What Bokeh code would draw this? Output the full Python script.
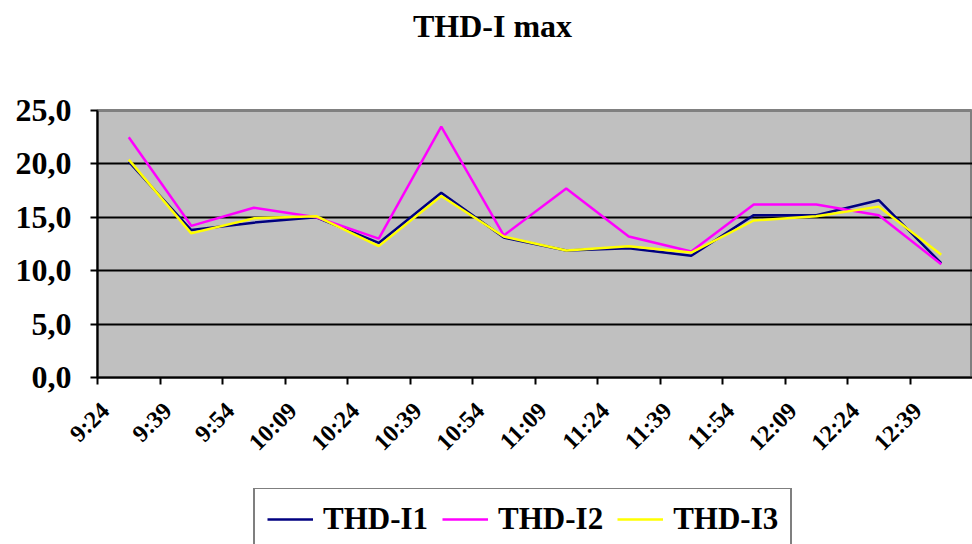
import math
from bokeh.plotting import figure
from bokeh.layouts import column
from bokeh.models import (Range1d, FixedTicker, Label, Legend, LegendItem, ColumnDataSource)
from bokeh.embed import file_html
from bokeh.resources import INLINE

# ---- data ----
times = ["9:24", "9:39", "9:54", "10:09", "10:24", "10:39", "10:54",
         "11:09", "11:24", "11:39", "11:54", "12:09", "12:24", "12:39"]
thd_i1 = [20.2, 13.8, 14.5, 15.0, 12.6, 17.3, 13.1, 11.9, 12.1, 11.4, 15.2, 15.2, 16.6, 10.7]
thd_i2 = [22.5, 14.2, 15.9, 15.0, 13.0, 23.5, 13.3, 17.7, 13.2, 11.8, 16.2, 16.2, 15.2, 10.6]
thd_i3 = [20.4, 13.5, 14.9, 15.1, 12.3, 17.0, 13.2, 11.9, 12.3, 11.7, 14.7, 15.1, 16.0, 11.5]
series_names = ["THD-I1", "THD-I2", "THD-I3"]
series_colors = ["#000080", "#FF00FF", "#FFFF00"]
y_ticks = [0, 5, 10, 15, 20, 25]
y_labels = ["0,0", "5,0", "10,0", "15,0", "20,0", "25,0"]
chart_title = "THD-I max"

idx = list(range(len(times)))
src = ColumnDataSource(dict(x=idx, i1=thd_i1, i2=thd_i2, i3=thd_i3))
cols = ["i1", "i2", "i3"]

FONT = "Liberation Serif"
W = 972
LEFT = 97


def strip(height, y_range=(0, 1)):
    f = figure(width=W, height=height, output_backend="svg", toolbar_location=None,
               x_range=Range1d(-100, -99), y_range=Range1d(*y_range),
               min_border_left=LEFT, min_border_right=0, min_border_top=0, min_border_bottom=0)
    f.title.visible = False
    f.axis.visible = False
    f.grid.grid_line_color = None
    f.outline_line_color = None
    f.background_fill_color = "white"
    f.border_fill_color = "white"
    return f


# ---- title strip ----
tf = strip(50)
tf.add_layout(Label(x=492 - LEFT, y=25, x_units="screen", y_units="screen", text=chart_title,
                    text_font=FONT, text_font_style="bold", text_font_size="32px",
                    text_align="center", text_baseline="middle", text_color="black"))

# ---- main chart ----
p = figure(width=W, height=438, output_backend="svg", toolbar_location=None,
           x_range=Range1d(-0.5, len(times) - 0.5), y_range=Range1d(0, 25),
           min_border_left=LEFT, min_border_right=0, min_border_top=60, min_border_bottom=111)
p.title.visible = False
p.background_fill_color = "#C0C0C0"
p.border_fill_color = "white"
p.outline_line_color = "#808080"
p.outline_line_width = 3

label_pos = [i - 0.38 for i in idx]
p.xaxis.ticker = FixedTicker(ticks=label_pos, minor_ticks=[i - 0.5 for i in idx])
p.xaxis.major_label_overrides = {lp: t for lp, t in zip(label_pos, times)}
p.xaxis.major_label_orientation = math.pi / 4
p.xaxis.major_tick_out = 0
p.xaxis.major_tick_in = 0
p.xaxis.minor_tick_out = 7
p.xaxis.minor_tick_in = 0
p.xaxis.minor_tick_line_color = "black"
p.xaxis.minor_tick_line_width = 2
p.xaxis.axis_line_color = "black"
p.xaxis.axis_line_width = 2
p.xaxis.major_label_text_font = FONT
p.xaxis.major_label_text_font_style = "bold"
p.xaxis.major_label_text_font_size = "24px"
p.xaxis.major_label_text_color = "black"
p.xaxis.major_label_standoff = 22

p.yaxis.ticker = FixedTicker(ticks=y_ticks)
p.yaxis.major_label_overrides = {t: l for t, l in zip(y_ticks, y_labels)}
p.yaxis.major_tick_out = 7
p.yaxis.major_tick_in = 0
p.yaxis.major_tick_line_width = 2
p.yaxis.major_tick_line_color = "black"
p.yaxis.minor_tick_line_color = None
p.yaxis.axis_line_color = "black"
p.yaxis.axis_line_width = 2
p.yaxis.major_label_text_font = FONT
p.yaxis.major_label_text_font_style = "bold"
p.yaxis.major_label_text_font_size = "32px"
p.yaxis.major_label_text_color = "black"
p.yaxis.major_label_standoff = 19

p.xgrid.grid_line_color = None
p.ygrid.ticker = FixedTicker(ticks=y_ticks[1:-1])
p.ygrid.grid_line_color = "black"
p.ygrid.grid_line_width = 2

for c, col in zip(series_colors, cols):
    p.line("x", col, source=src, line_color=c, line_width=2.5)

# ---- legend strip (same series, drawn out of view so only the legend shows) ----
lf = strip(56, (0, 25))
items = []
for name, c, col in zip(series_names, series_colors, cols):
    r = lf.line("x", col, source=src, line_color=c, line_width=2.5)
    items.append(LegendItem(label=name, renderers=[r]))

legend = Legend(items=items, orientation="horizontal", location=(253 - LEFT, -7),
                glyph_width=46, glyph_height=20, label_standoff=10, spacing=14,
                padding=12, margin=0,
                label_text_font=FONT, label_text_font_style="bold",
                label_text_font_size="31px", label_text_color="black",
                border_line_color="black", border_line_width=2,
                background_fill_color="white", background_fill_alpha=1.0)
lf.add_layout(legend, "center")

open("out.html", "w").write(file_html(column(tf, p, lf), INLINE))
